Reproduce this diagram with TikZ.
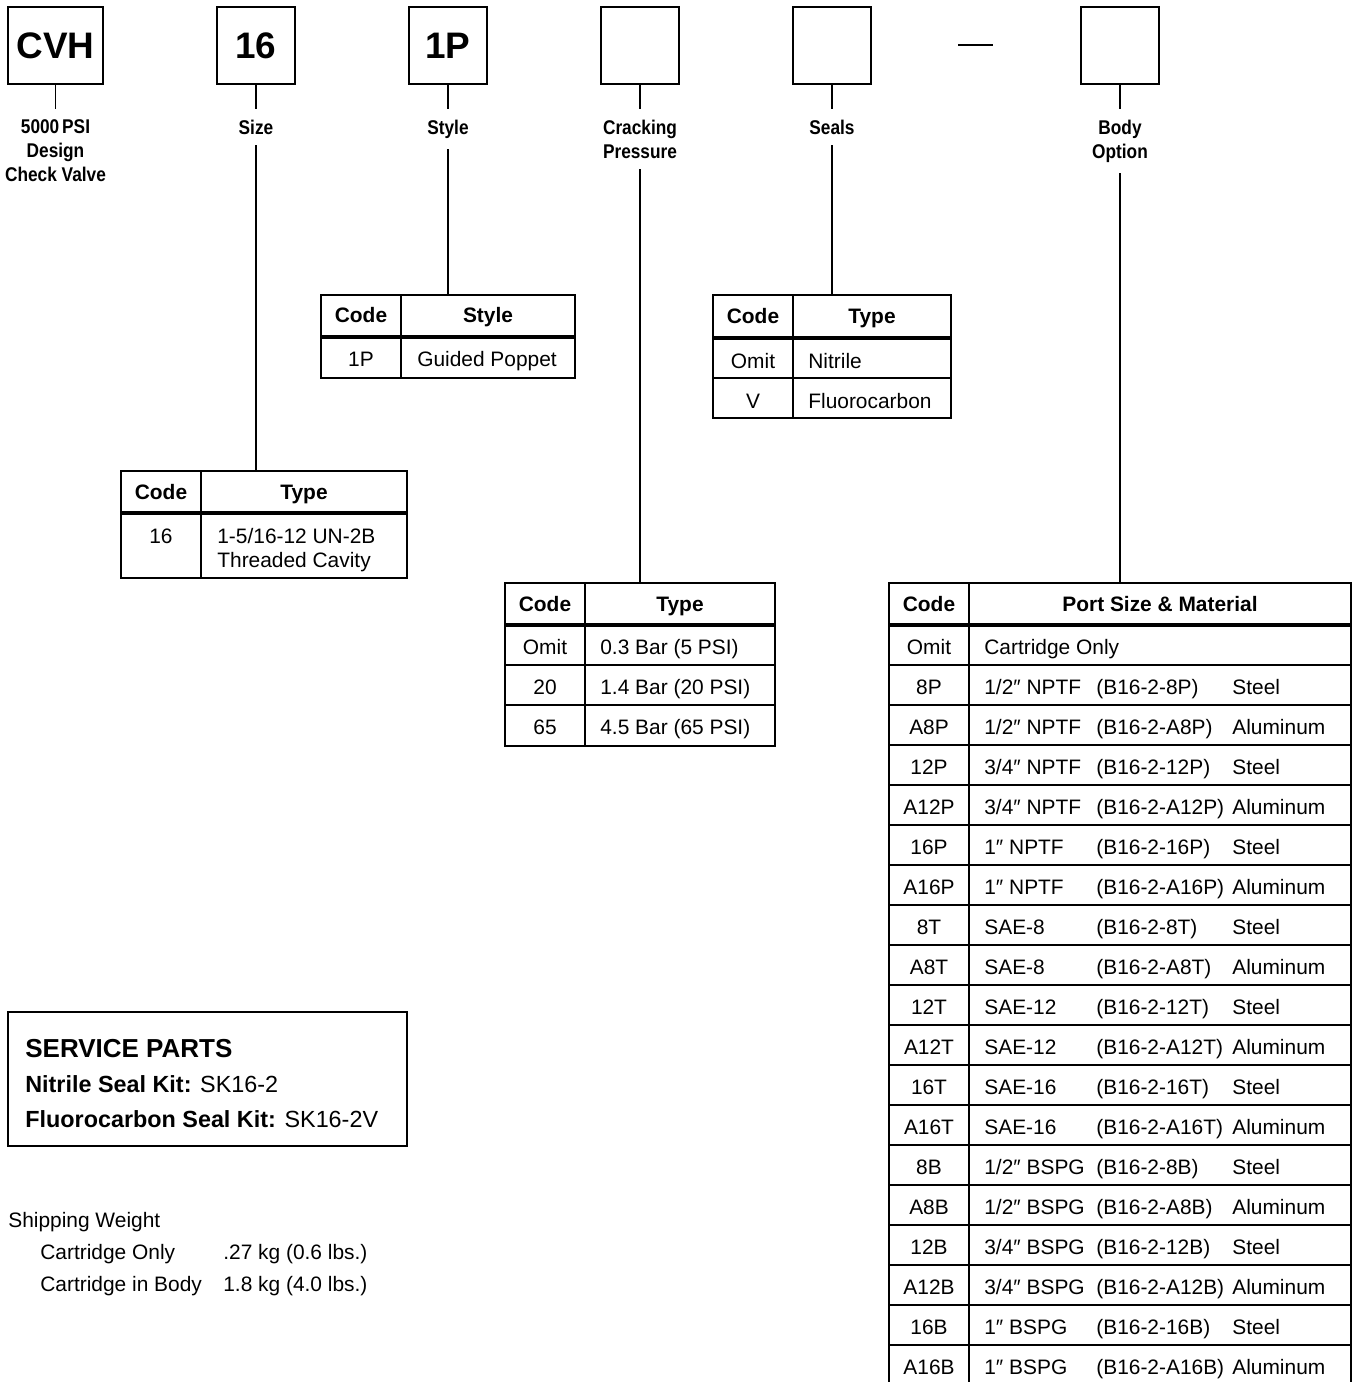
\documentclass[tikz,border=0pt]{standalone}
\usepackage{fontspec}
\setmainfont{Liberation Sans}
\usepackage{tikz}

\begin{document}
\begin{tikzpicture}[x=0.02cm, y=-0.02cm,
		topbox/.style = {draw, line width = \boxwidth, minimum width = 1.56cm, minimum height = 1.54cm, inner sep = 0pt, font = \fontsize{21}{25}\selectfont\bfseries},
		lbl/.style = {anchor = north, align = center, inner xsep = 0pt, inner ysep = 6pt, xscale = 0.87, font = \fontsize{11.3}{13.6}\selectfont\bfseries},
		cell/.style = {anchor = base, inner sep = 0pt, font = \fontsize{11.9}{14}\selectfont},
		lcell/.style = {cell, anchor = base west},
		hcell/.style = {cell, font = \fontsize{11.9}{14}\selectfont\bfseries}]
		\def\boxwidth{1.1pt}
		\def\tabwidth{1.1pt}
		\def\hdrwidth{2pt}
		\def\rulewidth{0.85pt}
		\useasboundingbox (0,0) rectangle (1353,1382);
		%--------------------

		\node[topbox, minimum width = 1.9cm] (cvh) at (55.5,45.5) {CVH};
		\node[topbox] (size) at (256,45.5) {16};
		\node[topbox] (style) at (448,45.5) {1P};
		\node[topbox] (crack) at (640,45.5) {};
		\node[topbox] (seals) at (832,45.5) {};
		\node[topbox] (body) at (1120,45.5) {};
		\draw[line width = \boxwidth] (958,45) -- (993,45);

		\node[lbl] (cvhlbl) at (55.5,109) {5000\,PSI\\Design\\Check Valve};
		\node[lbl] (sizelbl) at (256,109) {Size};
		\node[lbl] (stylelbl) at (448,109) {Style};
		\node[lbl] (cracklbl) at (640,109) {Cracking\\Pressure};
		\node[lbl] (sealslbl) at (832,109) {Seals};
		\node[lbl] (bodylbl) at (1120,109) {Body\\Option};

		\coordinate (sizetop) at (256,471);
		\coordinate (styletop) at (448,295);
		\coordinate (cracktop) at (640,583);
		\coordinate (sealstop) at (832,295);
		\coordinate (bodytop) at (1120,583);

		\draw[line width = \boxwidth] (cvh) -- (cvhlbl);
		\foreach \n in {size, style, crack, seals, body} {
			\draw[line width = \boxwidth] (\n) -- (\n lbl);
			\draw[line width = \boxwidth] (\n lbl) -- (\n top);
		}

		%-------------------- size
		\draw[line width = \tabwidth] (121,471) rectangle (407,578);
		\draw[line width = \rulewidth] (201,471) -- (201,578);
		\draw[line width = \hdrwidth] (121,513) -- (407,513);
		\node[hcell] (sizec) at (161,499) {Code};
		\node[hcell] (sizet) at (304,499) {Type};
		\node[cell] (sizec1) at (161,543) {16};
		\node[lcell] (sizet1) at (217,543) {1-5/16-12 UN-2B};
		\node[lcell] (sizet2) at (217,567) {Threaded Cavity};

		%-------------------- style
		\draw[line width = \tabwidth] (321,295) rectangle (575,378);
		\draw[line width = \rulewidth] (401,295) -- (401,378);
		\draw[line width = \hdrwidth] (321,337) -- (575,337);
		\node[hcell] (stylec) at (361,322) {Code};
		\node[hcell] (stylet) at (488,322) {Style};
		\node[cell] (stylec1) at (361,366) {1P};
		\node[cell] (stylet1) at (487,366) {Guided Poppet};

		%-------------------- seals
		\draw[line width = \tabwidth] (713,295) rectangle (951,418);
		\draw[line width = \rulewidth] (793,295) -- (793,418);
		\draw[line width = \hdrwidth] (713,338) -- (951,338);
		\draw[line width = \rulewidth] (713,378) -- (951,378);
		\node[hcell] (sealsc) at (753,323) {Code};
		\node[hcell] (sealst) at (872,323) {Type};
		\node[cell] (sealsc1) at (753,368) {Omit};
		\node[lcell] (sealst1) at (808,368) {Nitrile};
		\node[cell] (sealsc2) at (753,408) {V};
		\node[lcell] (sealst2) at (808,408) {Fluorocarbon};

		%-------------------- cracking pressure
		\draw[line width = \tabwidth] (505,583) rectangle (775,746);
		\draw[line width = \rulewidth] (585,583) -- (585,746);
		\draw[line width = \hdrwidth] (505,625) -- (775,625);
		\foreach \y in {665,705} \draw[line width = \rulewidth] (505,\y) -- (775,\y);
		\node[hcell] (crackc) at (545,611) {Code};
		\node[hcell] (crackt) at (680,611) {Type};
		\foreach \code/\val [count=\i] in {Omit/0.3 Bar (5 PSI), 20/1.4 Bar (20 PSI), 65/4.5 Bar (65 PSI)} {
			\node[cell] (crackc\i) at (545,{614+40*\i}) {\code};
			\node[lcell] (crackt\i) at (600,{614+40*\i}) {\val};
		}

		%-------------------- body option
		\draw[line width = \tabwidth] (889,583) rectangle (1351,1386);
		\draw[line width = \rulewidth] (969,583) -- (969,1386);
		\draw[line width = \hdrwidth] (889,625) -- (1351,625);
		\foreach \y in {665,705,...,1345} \draw[line width = \rulewidth] (889,\y) -- (1351,\y);
		\node[hcell] (bodyc) at (929,611) {Code};
		\node[hcell] (bodyt) at (1160,611) {Port Size \& Material};
		\node[cell] (bodyc0) at (929,654) {Omit};
		\node[lcell] (bodys0) at (984,654) {Cartridge Only};
		\foreach \code/\sz/\pn/\mat [count=\i] in {
			8P/{1/2″ NPTF}/(B16-2-8P)/Steel, A8P/{1/2″ NPTF}/(B16-2-A8P)/Aluminum,
			12P/{3/4″ NPTF}/(B16-2-12P)/Steel, A12P/{3/4″ NPTF}/(B16-2-A12P)/Aluminum,
			16P/1″ NPTF/(B16-2-16P)/Steel, A16P/1″ NPTF/(B16-2-A16P)/Aluminum,
			8T/SAE-8/(B16-2-8T)/Steel, A8T/SAE-8/(B16-2-A8T)/Aluminum,
			12T/SAE-12/(B16-2-12T)/Steel, A12T/SAE-12/(B16-2-A12T)/Aluminum,
			16T/SAE-16/(B16-2-16T)/Steel, A16T/SAE-16/(B16-2-A16T)/Aluminum,
			8B/{1/2″ BSPG}/(B16-2-8B)/Steel, A8B/{1/2″ BSPG}/(B16-2-A8B)/Aluminum,
			12B/{3/4″ BSPG}/(B16-2-12B)/Steel, A12B/{3/4″ BSPG}/(B16-2-A12B)/Aluminum,
			16B/1″ BSPG/(B16-2-16B)/Steel, A16B/1″ BSPG/(B16-2-A16B)/Aluminum} {
			\node[cell] (bodyc\i) at (929,{654+40*\i}) {\code};
			\node[lcell] (bodys\i) at (984,{654+40*\i}) {\sz};
			\node[lcell] (bodyp\i) at (1096,{654+40*\i}) {\pn};
			\node[lcell] (bodym\i) at (1232,{654+40*\i}) {\mat};
		}

		%-------------------- service parts
		\draw[line width = \tabwidth] (8,1012) rectangle (407,1146);
		\node[anchor = base west, inner sep = 0pt, font = \fontsize{14.8}{17}\selectfont\bfseries] (svctitle) at (25,1057) {SERVICE PARTS};
		\node[anchor = base west, inner sep = 0pt, font = \fontsize{13.3}{16}\selectfont] (svcnitrile) at (25,1092) {\textbf{Nitrile Seal Kit:} SK16-2};
		\node[anchor = base west, inner sep = 0pt, font = \fontsize{13.3}{16}\selectfont] (svcfluoro) at (25,1127) {\textbf{Fluorocarbon Seal Kit:} SK16-2V};

		%-------------------- shipping weight
		\node[lcell] (ship) at (8,1227) {Shipping Weight};
		\node[lcell] (shipcart) at (40,1259) {Cartridge Only};
		\node[lcell] (shipcartw) at (223,1259) {.27 kg (0.6 lbs.)};
		\node[lcell] (shipbody) at (40,1291) {Cartridge in Body};
		\node[lcell] (shipbodyw) at (223,1291) {1.8 kg (4.0 lbs.)};
\end{tikzpicture}
\end{document}
